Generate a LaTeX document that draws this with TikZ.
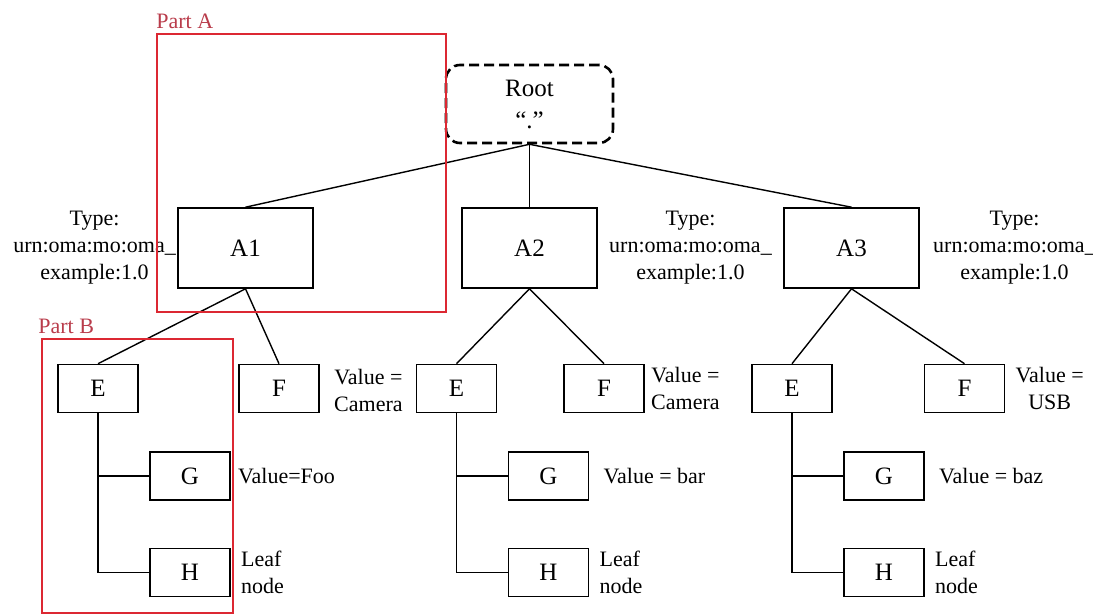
\documentclass[tikz,border=0pt]{standalone}
\usepackage{fontspec}
\setmainfont{Liberation Serif}
\usetikzlibrary{positioning}
\definecolor{partred}{RGB}{220,40,50}
\definecolor{parttext}{RGB}{185,60,75}

\begin{document}
\begin{tikzpicture}[x=0.5pt,y=-0.5pt]
	\tikzstyle{every node}=[inner sep=0pt]
	\tikzstyle{rootbox}=[draw,dashed,dash pattern=on 5pt off 2.5pt,line width=1.3pt,rounded corners=7pt,minimum width=83.5pt,minimum height=39pt,align=center,font=\fontsize{12.5}{16}\selectfont]
	\tikzstyle{abox}=[draw,line width=0.8pt,minimum width=67.5pt,minimum height=40pt,font=\fontsize{12.5}{15}\selectfont]
	\tikzstyle{leaf}=[draw,line width=0.8pt,minimum width=40pt,minimum height=24pt,font=\fontsize{12.5}{15}\selectfont]
	\tikzstyle{lbl}=[align=center,font=\fontsize{11}{13.5}\selectfont]
	\tikzstyle{link}=[line width=0.7pt]
	\tikzstyle{partframe}=[draw=partred,line width=1pt]

	\useasboundingbox (0,0) rectangle (1093,615);

	\node[rootbox] (root) at (529.5,104) {Root\\“.”};

	\node[abox,on grid,below=72pt of root] (A2) {A2};
	\node[abox,on grid,left=142pt of A2] (A1) {A1};
	\node[abox,on grid,right=161pt of A2] (A3) {A3};

	\node[leaf,on grid,below left=70.25pt and 73.75pt of A1] (E1) {E};
	\node[leaf,on grid,below right=70.25pt and 16.75pt of A1] (F1) {F};
	\node[leaf,on grid,below left=70.25pt and 36.5pt of A2] (E2) {E};
	\node[leaf,on grid,below right=70.25pt and 37.25pt of A2] (F2) {F};
	\node[leaf,on grid,below left=70.25pt and 29.75pt of A3] (E3) {E};
	\node[leaf,on grid,below right=70.25pt and 56.5pt of A3] (F3) {F};

	\foreach \i in {1,2,3} {
		\node[leaf,on grid,below right=43.75pt and 46pt of E\i] (G\i) {G};
		\node[leaf,on grid,below=48.25pt of G\i] (H\i) {H};
		\draw[link] (E\i.south) |- (H\i.west);
		\draw[link] (E\i.south |- G\i.west) -- (G\i.west);
		\draw[link] (A\i.south) -- (E\i.north);
		\draw[link] (A\i.south) -- (F\i.north);
		\draw[link] (root.south) -- (A\i.north);
		\node[lbl,align=left,right=5pt of H\i] (leafH\i) {Leaf\\node};
	}

	% type labels
	\node[lbl,left=0.5pt of A1] (typeA1) {Type:\\urn:oma:mo:oma\_\\example:1.0};
	\node[lbl,right=5.5pt of A2] (typeA2) {Type:\\urn:oma:mo:oma\_\\example:1.0};
	\node[lbl,right=6.5pt of A3] (typeA3) {Type:\\urn:oma:mo:oma\_\\example:1.0};

	% value labels
	\node[lbl,right=7pt of F1,yshift=-1pt] (valF1) {Value =\\Camera};
	\node[lbl,right=3pt of F2] (valF2) {Value =\\Camera};
	\node[lbl,right=5pt of F3] (valF3) {Value =\\USB};
	\node[lbl,right=3.5pt of G1] (valG1) {Value=Foo};
	\node[lbl,right=7pt of G2] (valG2) {Value = bar};
	\node[lbl,right=7pt of G3] (valG3) {Value = baz};

	% parts
	\draw[partframe] (157,34) rectangle (446,312);
	\draw[partframe] (42,339) rectangle (233,613);
	\node[lbl,anchor=west,text=parttext] (partA) at (156,21) {Part A};
	\node[lbl,anchor=west,text=parttext] (partB) at (38,326) {Part B};
\end{tikzpicture}
\end{document}
